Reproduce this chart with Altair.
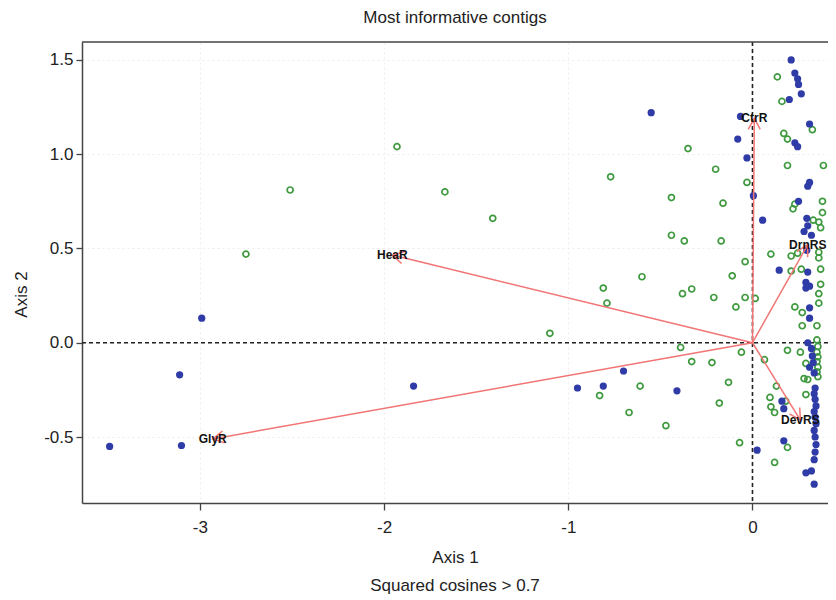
import math
import altair as alt
import pandas as pd

# ---------------- data ----------------
blue_x = [-3.49, -3.10, -3.11, -2.99, -1.84, -0.95, -0.81, -0.70, -0.41, -0.55,
          -0.065, -0.08, -0.03, 0.005, 0.055, 0.025, 0.17, 0.16, 0.17,
          0.21, 0.23, 0.245, 0.25, 0.265, 0.20, 0.31, 0.23, 0.245, 0.31,
          0.30, 0.25, 0.295, 0.30, 0.28, 0.32, 0.295, 0.30, 0.145, 0.29,
          0.31, 0.29, 0.31, 0.31, 0.30, 0.32, 0.325, 0.31, 0.335, 0.33,
          0.34, 0.335, 0.34, 0.345, 0.335, 0.34, 0.345, 0.335, 0.34, 0.345,
          0.34, 0.335, 0.32, 0.29, 0.335]
blue_y = [-0.55, -0.545, -0.17, 0.13, -0.23, -0.24, -0.23, -0.15, -0.255, 1.22,
          1.20, 1.08, 0.98, 0.78, 0.65, -0.57, -0.52, -0.31, -0.35,
          1.50, 1.43, 1.40, 1.37, 1.32, 1.29, 1.16, 1.06, 1.04, 0.85,
          0.83, 0.75, 0.66, 0.62, 0.59, 0.57, 0.49, 0.375, 0.385, 0.32,
          0.30, 0.29, 0.185, 0.13, 0.0, -0.03, -0.07, -0.13, -0.16, -0.105,
          -0.24, -0.27, -0.30, -0.335, -0.365, -0.395, -0.43, -0.465, -0.50, -0.54,
          -0.58, -0.62, -0.68, -0.69, -0.75]

green_x = [-2.75, -2.51, -1.93, -1.67, -1.41, -1.10, -0.77, -0.35, -0.20, -0.03,
           -0.44, -0.16, -0.44, -0.37, -0.17, -0.04, -0.11, -0.60, -0.81, -0.33,
           -0.38, -0.21, -0.04, -0.09, -0.79, -0.39, -0.06, -0.33, -0.22, -0.61,
           -0.83, -0.13, -0.18, -0.67, -0.47, -0.07, 0.015,
           0.135, 0.16, 0.325, 0.17, 0.19, 0.19, 0.385, 0.23, 0.22, 0.38,
           0.38, 0.33, 0.36, 0.37, 0.10, 0.21, 0.245, 0.36, 0.36, 0.37,
           0.265, 0.21, 0.37, 0.36, 0.36, 0.23, 0.27, 0.35, 0.27, 0.19,
           0.26, 0.065, 0.29, 0.28, 0.30, 0.13, 0.29, 0.095, 0.18, 0.10,
           0.12, 0.19, 0.12,
           0.35, 0.355, 0.35, 0.355, 0.35, 0.355, 0.35, 0.355]
green_y = [0.47, 0.81, 1.04, 0.80, 0.66, 0.05, 0.88, 1.03, 0.92, 0.85,
           0.77, 0.74, 0.57, 0.54, 0.54, 0.43, 0.355, 0.35, 0.29, 0.285,
           0.26, 0.24, 0.24, 0.19, 0.21, -0.025, -0.05, -0.10, -0.105, -0.23,
           -0.28, -0.21, -0.32, -0.37, -0.44, -0.53, 0.235,
           1.41, 1.28, 1.13, 1.11, 1.08, 0.94, 0.94, 0.735, 0.71, 0.75,
           0.69, 0.65, 0.64, 0.61, 0.47, 0.46, 0.475, 0.48, 0.45, 0.39,
           0.39, 0.38, 0.31, 0.26, 0.21, 0.19, 0.16, 0.09, 0.09, -0.04,
           -0.05, -0.09, -0.11, -0.19, -0.195, -0.23, -0.275, -0.29, -0.31, -0.34,
           -0.37, -0.555, -0.635,
           0.015, -0.02, -0.05, -0.075, -0.10, -0.13, -0.155, -0.18]

arrow_names = ["CtrR", "HeaR", "GlyR", "DrnRS", "DevRS"]
arrow_x = [0.01, -1.955, -2.93, 0.30, 0.26]
arrow_y = [1.19, 0.465, -0.51, 0.52, -0.41]

x_ticks = [-3, -2, -1, 0]
y_ticks = [-0.5, 0.0, 0.5, 1.0, 1.5]

title_text = "Most informative contigs"
x_title = "Axis 1"
y_title = "Axis 2"
sub_text = "Squared cosines > 0.7"

# ---------------- layout ----------------
X_DOM = [-3.64, 0.41]
Y_DOM = [-0.85, 1.595]
W, H = 746, 461
SX = W / (X_DOM[1] - X_DOM[0])
SY = H / (Y_DOM[1] - Y_DOM[0])
FONT = "Liberation Sans"

xs = alt.Scale(domain=X_DOM, nice=False, zero=False)
ys = alt.Scale(domain=Y_DOM, nice=False, zero=False)

minus_fix = "replace(format(datum.value, '{}'), '\u2212', '-')"
x_axis = alt.Axis(values=x_ticks, labelExpr=minus_fix.format("d"), title=x_title,
                  titleY=46, tickSize=7, labelPadding=9)
y_axis = alt.Axis(values=y_ticks, labelExpr=minus_fix.format(".1f"), title=y_title,
                  titleX=-52, titleY=252, tickSize=6, labelPadding=3)


def X(field):
    return alt.X(field, type="quantitative", scale=xs, axis=x_axis)


def Y(field):
    return alt.Y(field, type="quantitative", scale=ys, axis=y_axis)


blue_df = pd.DataFrame({"x": blue_x, "y": blue_y})
green_df = pd.DataFrame({"x": green_x, "y": green_y})
arr_df = pd.DataFrame({
    "name": arrow_names,
    "x": arrow_x,
    "y": arrow_y,
    "x0": [0.0] * len(arrow_x),
    "y0": [0.0] * len(arrow_x),
    "angle": [(math.degrees(math.atan2(a * SX, b * SY)) + 360) % 360
              for a, b in zip(arrow_x, arrow_y)],
})
zero_df = pd.DataFrame({"x": [0.0], "y": [0.0]})

vline = alt.Chart(zero_df).mark_rule(color="#222", strokeWidth=1.6, strokeDash=[4, 3]).encode(x=X("x"))
hline = alt.Chart(zero_df).mark_rule(color="#222", strokeWidth=1.6, strokeDash=[4, 3]).encode(y=Y("y"))
top_border = alt.Chart(zero_df).mark_rule(color="#444", strokeWidth=1.5).encode(y=alt.value(0))

blue = alt.Chart(blue_df).mark_circle(color="#2f3ba6", opacity=1, size=52).encode(x=X("x"), y=Y("y"))
green = alt.Chart(green_df).mark_point(color="#3f9a3f", filled=False, strokeWidth=1.7,
                                        size=36, opacity=1).encode(x=X("x"), y=Y("y"))

arrow_color = "#f27474"
shafts = alt.Chart(arr_df).mark_rule(color=arrow_color, strokeWidth=1.5).encode(
    x=X("x0"), y=Y("y0"), x2="x", y2="y")
heads = alt.Chart(arr_df).mark_point(
    shape="M-0.55,1 L0,0 L0.55,1", filled=False, color=arrow_color,
    strokeWidth=1.5, size=480, opacity=1).encode(
    x=X("x"), y=Y("y"), angle=alt.Angle("angle:Q", scale=None))
labels = alt.Chart(arr_df).mark_text(font=FONT, fontSize=12, fontWeight="bold",
                                     color="#111", baseline="middle", align="center").encode(
    x=X("x"), y=Y("y"), text="name:N")

sub = alt.Chart(zero_df).mark_text(text=sub_text, font=FONT, fontSize=17, color="#222",
                                   baseline="middle", align="center").encode(
    x=alt.value(W / 2), y=alt.value(544))

chart = alt.layer(vline, hline, top_border, green, blue, shafts, heads, labels, sub).properties(
    width=W, height=H,
    title=alt.TitleParams(title_text, font=FONT, fontSize=17, fontWeight="normal",
                          color="#222", offset=14, anchor="middle"),
    padding={"left": 74, "top": 34, "right": 0, "bottom": 96},
    autosize=alt.AutoSizeParams(type="none"),
).configure_view(stroke=None).configure_axis(
    domainColor="#444", domainWidth=1.5, tickColor="#444", tickWidth=1.3,
    labelFont=FONT, labelFontSize=17, labelColor="#222",
    titleFont=FONT, titleFontSize=17, titleFontWeight="normal", titleColor="#222",
    grid=True, gridColor="#ededed", gridDash=[2, 3], gridWidth=1,
)

chart.save("out.html", embed_options={"renderer": "svg", "actions": False})
